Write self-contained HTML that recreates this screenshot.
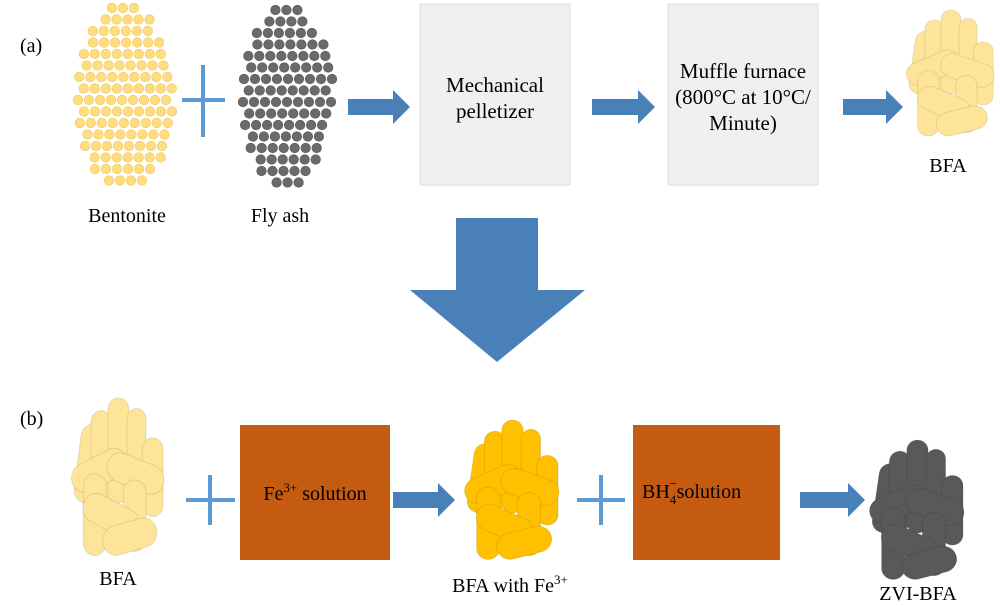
<!DOCTYPE html>
<html><head><meta charset="utf-8"><style>
html,body{margin:0;padding:0;background:#fff}
svg{display:block}
text{font-family:"Liberation Serif",serif;fill:#000}
</style></head><body>
<svg id="s" width="1000" height="606" viewBox="0 0 1000 606" xmlns="http://www.w3.org/2000/svg">
<defs>
<g id="pel" stroke="rgba(0,0,0,0.12)" stroke-width="0.8">
  <rect x="8" y="25" width="24" height="75" rx="12" transform="rotate(8 20 62)"/>
  <rect x="22" y="12" width="22" height="85" rx="11"/>
  <rect x="40" y="0" width="22" height="100" rx="11"/>
  <rect x="60" y="10" width="20" height="85" rx="10"/>
  <rect x="76" y="38" width="22" height="75" rx="11"/>
  <rect x="0" y="55" width="62" height="28" rx="14" transform="rotate(-25 31 69)"/>
  <rect x="38" y="58" width="62" height="28" rx="14" transform="rotate(20 69 72)"/>
  <rect x="14" y="72" width="24" height="78" rx="12"/>
  <rect x="56" y="78" width="24" height="68" rx="12"/>
  <rect x="12" y="98" width="62" height="28" rx="14" transform="rotate(25 43 112)"/>
  <rect x="34" y="118" width="58" height="28" rx="14" transform="rotate(-15 63 132)"/>
</g>
</defs>
<g id="dots"></g>
<text x="20" y="52" font-size="20">(a)</text>
<text x="20" y="425" font-size="20">(b)</text>
<g stroke="#5b9bd5" stroke-width="4">
<line x1="182" y1="100" x2="225" y2="100"/><line x1="203" y1="65" x2="203" y2="137"/>
<line x1="186" y1="500" x2="235" y2="500"/><line x1="210" y1="475" x2="210" y2="525"/>
<line x1="577" y1="500" x2="625" y2="500"/><line x1="601" y1="475" x2="601" y2="525"/>
</g>
<text x="127" y="222" font-size="20" text-anchor="middle">Bentonite</text>
<text x="280" y="222" font-size="20" text-anchor="middle">Fly ash</text>
<g fill="#4a80b8">
<polygon points="348,99 393,99 393,90 410,107 393,124 393,115 348,115"/>
<polygon points="592,99 638,99 638,90 655,107 638,124 638,115 592,115"/>
<polygon points="843,99 886,99 886,90 903,107 886,124 886,115 843,115"/>
<polygon points="393,492 438,492 438,483 455,500 438,517 438,508 393,508"/>
<polygon points="800,492 848,492 848,483 865,500 848,517 848,508 800,508"/>
<polygon points="456,218 538,218 538,290 585,290 497,362 410,290 456,290"/>
</g>
<rect x="420" y="4" width="150" height="181" fill="#f0f0f0" stroke="#dcdcdc"/>
<text x="495" y="92" font-size="21" text-anchor="middle">Mechanical</text>
<text x="495" y="118" font-size="21" text-anchor="middle">pelletizer</text>
<rect x="668" y="4" width="150" height="181" fill="#f0f0f0" stroke="#dcdcdc"/>
<text x="743" y="78" font-size="21" text-anchor="middle">Muffle furnace</text>
<text x="743" y="104" font-size="21" text-anchor="middle">(800°C at 10°C/</text>
<text x="743" y="130" font-size="21" text-anchor="middle">Minute)</text>
<use href="#pel" transform="translate(905,10) scale(0.9,0.84)" fill="#fde499"/>
<text x="948" y="172" font-size="20" text-anchor="middle">BFA</text>
<use href="#pel" transform="translate(70,398) scale(0.95,1.05)" fill="#fde499"/>
<text x="118" y="585" font-size="20" text-anchor="middle">BFA</text>
<rect x="240" y="425" width="150" height="135" fill="#c55a11"/>
<text x="315" y="500" font-size="20" text-anchor="middle">Fe<tspan font-size="13" dy="-8">3+</tspan><tspan dy="8"> solution</tspan></text>
<use href="#pel" transform="translate(463,420) scale(0.97,0.93)" fill="#ffc000"/>
<text x="510" y="592" font-size="20" text-anchor="middle">BFA with Fe<tspan font-size="13" dy="-8">3+</tspan></text>
<rect x="633" y="425" width="147" height="135" fill="#c55a11"/>
<text x="642" y="498" font-size="20">BH<tspan font-size="13" dy="6">4</tspan><tspan font-size="13" dx="-7" dy="-16">−</tspan><tspan dy="10">solution</tspan></text>
<use href="#pel" transform="translate(868,440) scale(0.97,0.93)" fill="#595959"/>
<text x="918" y="600" font-size="20" text-anchor="middle">ZVI-BFA</text>
</svg>
<script>
(function(){
var g=document.getElementById('dots'),h='';
function cl(cx,cy,rx,ry,col,st){
 var i=0;
 for(var y=cy-ry+6;y<=cy+ry-5;y+=11.5,i++){
  var off=(i%2)?5.5:0;
  var w=rx*Math.sqrt(Math.max(0,1-Math.pow((y-cy)/ry,2)));
  for(var x=cx-w+5+off;x<=cx+w-4;x+=11){
   h+='<circle cx="'+x.toFixed(1)+'" cy="'+y.toFixed(1)+'" r="4.8" fill="'+col+'" stroke="'+st+'" stroke-width="0.6"/>';
  }
 }
}
cl(125,98,52,96,'#fedc82','#f3c957');
cl(288,98,50,94,'#6a6a6a','#5a5a5a');
g.innerHTML=h;
})();
</script>
</body></html>
